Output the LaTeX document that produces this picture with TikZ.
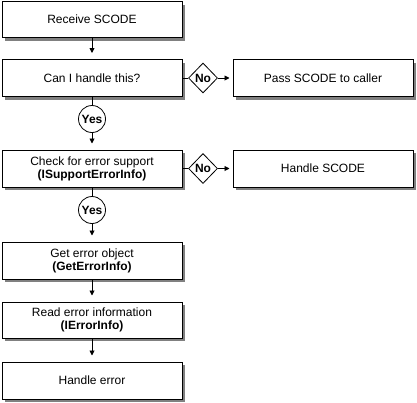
\documentclass[tikz,border=0pt]{standalone}
\usepackage{fontspec}
\setmainfont{Liberation Sans}
\usetikzlibrary{shapes.geometric,arrows.meta,shadows}
\definecolor{shadowgray}{HTML}{808080}
\begin{document}
\begin{tikzpicture}[x=1pt,y=-1pt,
  box/.style={draw=black, fill=white, line width=1pt, minimum width=180pt,
    minimum height=36pt, inner sep=0pt, align=center,
    font=\fontsize{12}{13}\selectfont,
    general shadow={fill=shadowgray, shadow xshift=3pt, shadow yshift=-3pt}},
  yesnode/.style={circle, draw=black, fill=white, line width=0.8pt, minimum size=27pt,
    inner sep=0pt, font=\fontsize{12}{13}\selectfont\bfseries},
  nonode/.style={diamond, draw=black, fill=white, line width=0.8pt, minimum width=29pt,
    minimum height=30pt, inner sep=0pt, font=\fontsize{12}{13}\selectfont\bfseries},
  conn/.style={draw=black, line width=0.9pt},
  arr/.style={conn, -{Triangle[length=5pt,width=5pt]}, shorten >=6pt},
  harr/.style={conn, -{Triangle[length=5pt,width=5pt]}, shorten >=3pt}
]
\useasboundingbox (0,0) rectangle (417,402);

\node[box] (b1) at (92,19.5) {Receive SCODE};
\node[box, minimum height=37pt] (b2) at (92,78) {Can I handle this?};
\node[box, minimum height=37pt] (b3) at (92,168.5) {Check for error support\\\textbf{(ISupportErrorInfo)}};
\node[box, minimum height=37pt] (b4) at (92,260.5) {Get error object\\\textbf{(GetErrorInfo)}};
\node[box] (b5) at (92,320) {Read error information\\\textbf{(IErrorInfo)}};
\node[box, minimum height=37pt] (b6) at (92,380.5) {Handle error};

\node[box, minimum height=37pt] (r1) at (323,78) {Pass SCODE to caller};
\node[box, minimum height=37pt] (r2) at (323,168.5) {Handle SCODE};

\node[yesnode] (y1) at (92,119) {Yes};
\node[yesnode] (y2) at (92,210) {Yes};

\node[nonode] (d1) at (203,78) {No};
\node[nonode] (d2) at (203,168.5) {No};

\draw[arr] (b1) -- (b2);
\draw[conn] (b2) -- (y1);
\draw[arr] (y1) -- (b3);
\draw[conn] (b3) -- (y2);
\draw[arr] (y2) -- (b4);
\draw[arr] (b4) -- (b5);
\draw[arr] (b5) -- (b6);

\draw[conn] (b2) -- (d1);
\draw[harr] (d1) -- (r1);
\draw[conn] (b3) -- (d2);
\draw[harr] (d2) -- (r2);
\end{tikzpicture}
\end{document}
